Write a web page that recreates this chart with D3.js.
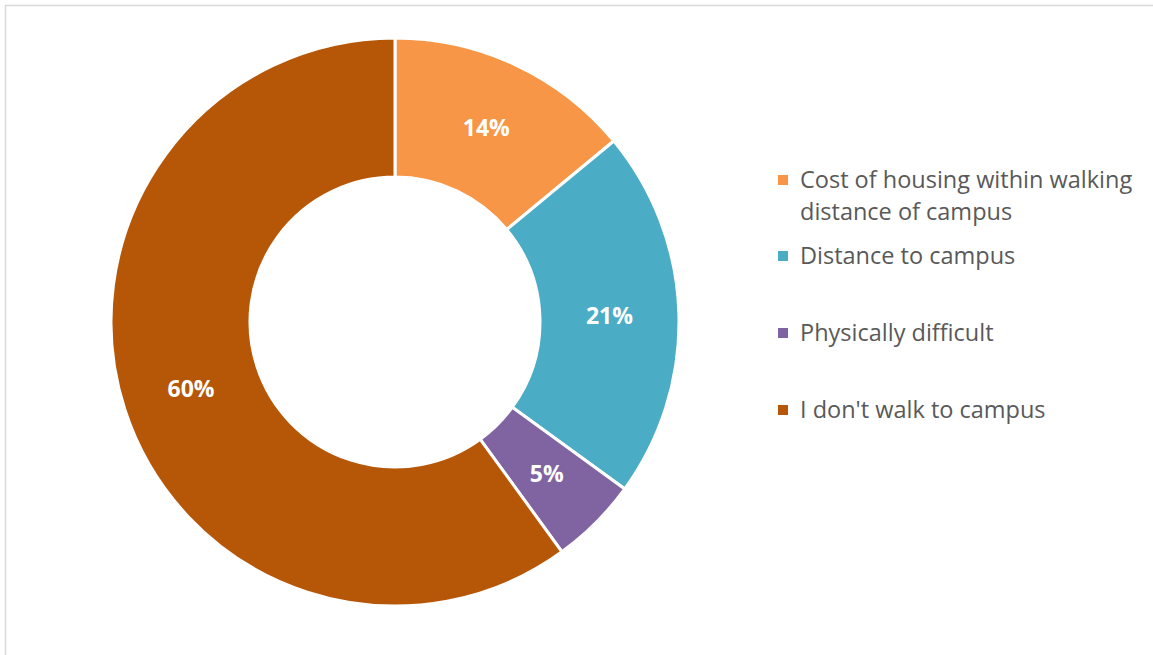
<!DOCTYPE html>
<html>
<head>
<meta charset="utf-8">
<script src="https://cdn.jsdelivr.net/npm/d3@7"></script>
<style>
	html, body { margin: 0; padding: 0; background: #fff; }
	svg { display: block; }
</style>
</head>
<body>
<svg id="chart" width="1153" height="655"></svg>
<script>
const CATEGORIES = ["Cost of housing within walking distance of campus", "Distance to campus", "Physically difficult", "I don't walk to campus"];
const LEGEND_LINES = [["Cost of housing within walking", "distance of campus"], ["Distance to campus"], ["Physically difficult"], ["I don't walk to campus"]];
const VALUES = [14, 21, 5, 60];
const SLICE_COLORS = ["#F79646", "#4BACC6", "#8064A2", "#B65708"];

const CENTER = { x: 395, y: 322 };
const OUTER_R = 284;
const INNER_R = 145;

const svg = d3.select("#chart");

// chart area border
svg.append("rect")
	.attr("x", 5.5)
	.attr("y", 5.5)
	.attr("width", 1200)
	.attr("height", 700)
	.attr("fill", "none")
	.attr("stroke", "#d9d9d9")
	.attr("stroke-width", 1.5);

const color = d3.scaleOrdinal().domain(CATEGORIES).range(SLICE_COLORS);

const pie = d3.pie().sort(null).value((d, i) => VALUES[i]);
const arcs = pie(CATEGORIES);

const arc = d3.arc().innerRadius(INNER_R).outerRadius(OUTER_R);
const labelArc = d3.arc().innerRadius((INNER_R + OUTER_R) / 2).outerRadius((INNER_R + OUTER_R) / 2);

const g = svg.append("g").attr("transform", "translate(" + CENTER.x + "," + CENTER.y + ")");

g.selectAll("path")
	.data(arcs)
	.enter().append("path")
	.attr("d", arc)
	.attr("fill", (d) => color(d.data))
	.attr("stroke", "#fff")
	.attr("stroke-width", 3)
	.attr("stroke-linejoin", "miter");

g.selectAll("text.pct")
	.data(arcs)
	.enter().append("text")
	.attr("class", "pct")
	.attr("transform", (d) => "translate(" + labelArc.centroid(d) + ")")
	.attr("text-anchor", "middle")
	.attr("dy", "0.36em")
	.attr("font-family", "'Open Sans', sans-serif")
	.attr("font-weight", "bold")
	.attr("font-size", 23)
	.attr("fill", "#fff")
	.text((d, i) => VALUES[i] + "%");

// legend
const LEGEND_X = 778;
const LEGEND_Y = [180, 256, 333, 410];
const LINE_H = 32;

const legend = svg.append("g")
	.selectAll("g")
	.data(CATEGORIES)
	.enter().append("g")
	.attr("transform", (d, i) => "translate(" + LEGEND_X + "," + LEGEND_Y[i] + ")");

legend.append("rect")
	.attr("x", 0)
	.attr("y", -5)
	.attr("width", 10)
	.attr("height", 10)
	.attr("fill", color);

legend.append("text")
	.attr("x", 22)
	.attr("font-family", "'Open Sans', sans-serif")
	.attr("font-size", 23.5)
	.attr("fill", "#595959")
	.selectAll("tspan")
	.data((d, i) => LEGEND_LINES[i])
	.enter().append("tspan")
	.attr("x", 22)
	.attr("y", (d, j) => j * LINE_H)
	.attr("dy", "0.35em")
	.text((d) => d);
</script>
</body>
</html>
